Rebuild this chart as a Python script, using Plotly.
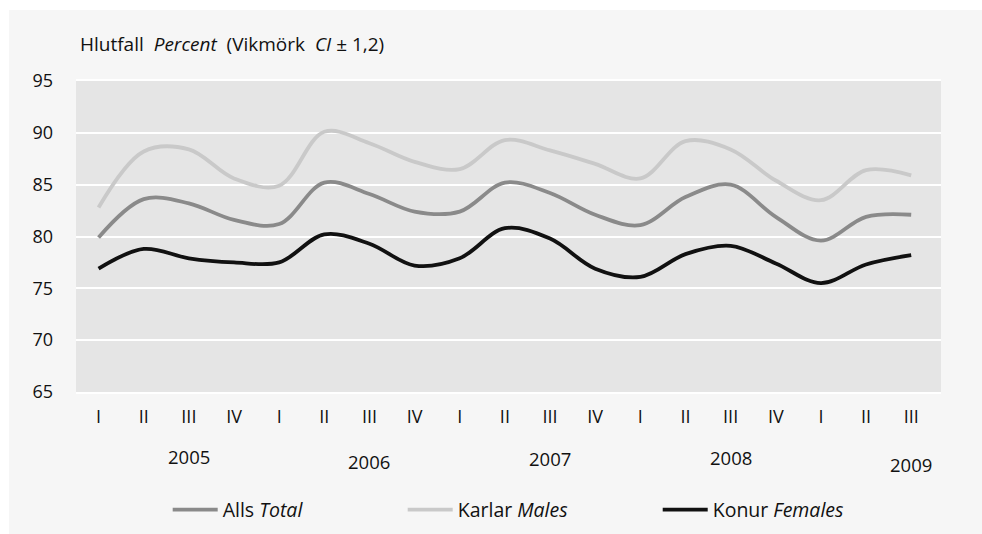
import plotly.graph_objects as go

quarters = ["I", "II", "III", "IV", "I", "II", "III", "IV", "I", "II", "III", "IV",
            "I", "II", "III", "IV", "I", "II", "III"]
total = [79.9, 83.6, 83.2, 81.6, 81.2, 85.2, 84.1, 82.4, 82.4, 85.2, 84.2, 82.1,
         81.1, 83.8, 85.0, 81.9, 79.6, 81.9, 82.1]
males = [82.8, 88.2, 88.4, 85.6, 84.9, 90.1, 89.0, 87.2, 86.5, 89.3, 88.3, 87.0,
         85.6, 89.2, 88.4, 85.4, 83.5, 86.4, 85.9]
females = [76.9, 78.8, 77.9, 77.5, 77.5, 80.2, 79.3, 77.2, 77.9, 80.8, 79.8, 76.9,
           76.1, 78.3, 79.1, 77.4, 75.5, 77.3, 78.2]
years = ["2005", "2006", "2007", "2008", "2009"]
year_pos = [2, 6, 10, 14, 18]
year_y = [-0.209, -0.225, -0.215, -0.212, -0.232]
yticks = [65, 70, 75, 80, 85, 90, 95]

FONT = "Open Sans"
x = list(range(len(quarters)))

fig = go.Figure()
series = [
    ("Alls <i>Total</i>", total, "#8a8a8a", "legend", 0.106),
    ("Karlar <i>Males</i>", males, "#c9c9c9", "legend2", 0.3777),
    ("Konur <i>Females</i>", females, "#111111", "legend3", 0.6725),
]
for name, vals, col, leg, _ in series:
    fig.add_trace(go.Scatter(
        x=x, y=vals, name=name, mode="lines", legend=leg,
        line=dict(color=col, width=3.8, shape="spline", smoothing=1.0),
        hoverinfo="skip",
    ))

for yr, xp, yp in zip(years, year_pos, year_y):
    fig.add_annotation(text=yr, x=xp, y=yp, xref="x", yref="paper",
                       showarrow=False, xanchor="center", yanchor="middle",
                       font=dict(family=FONT, size=18.5, color="#111111"))

fig.add_annotation(text="Hlutfall  <i>Percent</i>  (Vikmörk  <i>CI</i> ± 1,2)",
                   x=0.002, y=1.119, xref="paper", yref="paper",
                   showarrow=False, xanchor="left", yanchor="middle",
                   font=dict(family=FONT, size=19, color="#111111"))

# white strips outside the grey panel
fig.add_shape(type="rect", xref="paper", yref="paper", x0=-0.2, x1=1.2,
              y0=1.2283, y1=1.4, fillcolor="white", line=dict(width=0), layer="below")
fig.add_shape(type="rect", xref="paper", yref="paper", x0=-0.2, x1=-0.0775,
              y0=-0.6, y1=1.4, fillcolor="white", line=dict(width=0), layer="below")

legends = {}
for _, _, _, leg, lx in series:
    legends[leg] = dict(orientation="h", x=lx, y=-0.379, xanchor="left",
                        yanchor="middle", font=dict(family=FONT, size=19.5, color="#111111"),
                        bgcolor="rgba(0,0,0,0)", itemwidth=45)

fig.update_layout(
    width=982, height=534,
    margin=dict(l=76, r=41, t=81, b=142, autoexpand=False),
    paper_bgcolor="#f6f6f6",
    plot_bgcolor="#e5e5e5",
    font=dict(family=FONT, size=18, color="#111111"),
    showlegend=True,
    **legends,
    xaxis=dict(range=[-0.5, 18.66], tickmode="array", tickvals=x, ticktext=quarters,
               showgrid=False, zeroline=False, showline=True, mirror=True,
               linecolor="white", linewidth=2, ticks="", ticklabelstandoff=7,
               tickfont=dict(family=FONT, size=18, color="#111111")),
    yaxis=dict(range=[65, 95], tickmode="array", tickvals=yticks,
               showgrid=True, gridcolor="white", gridwidth=2, zeroline=False,
               showline=False, ticks="", ticklabelstandoff=22,
               tickfont=dict(family=FONT, size=18, color="#111111")),
)

fig.write_html(
    "out.html",
    config={"displayModeBar": False},
    post_script="document.body.style.margin='0';document.body.style.overflow='hidden';",
)
